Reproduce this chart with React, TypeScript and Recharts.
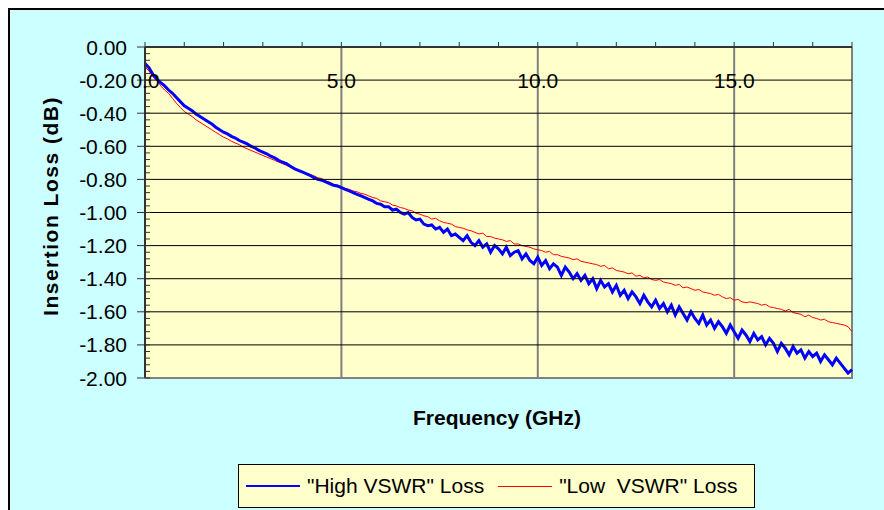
import React from "react";
import { LineChart, Line, XAxis, YAxis, CartesianGrid, ReferenceLine } from "recharts";

const freqGHz = [
  0.0, 0.1, 0.2, 0.3, 0.4, 0.5, 0.6, 0.7, 0.8, 0.9,
  1.0, 1.1, 1.2, 1.3, 1.4, 1.5, 1.6, 1.7, 1.8, 1.9,
  2.0, 2.1, 2.2, 2.3, 2.4, 2.5, 2.6, 2.7, 2.8, 2.9,
  3.0, 3.1, 3.2, 3.3, 3.4, 3.5, 3.6, 3.7, 3.8, 3.9,
  4.0, 4.1, 4.2, 4.3, 4.4, 4.5, 4.6, 4.7, 4.8, 4.9,
  5.0, 5.1, 5.2, 5.3, 5.4, 5.5, 5.6, 5.7, 5.8, 5.9,
  6.0, 6.1, 6.2, 6.3, 6.4, 6.5, 6.6, 6.7, 6.8, 6.9,
  7.0, 7.1, 7.2, 7.3, 7.4, 7.5, 7.6, 7.7, 7.8, 7.9,
  8.0, 8.1, 8.2, 8.3, 8.4, 8.5, 8.6, 8.7, 8.8, 8.9,
  9.0, 9.1, 9.2, 9.3, 9.4, 9.5, 9.6, 9.7, 9.8, 9.9,
  10.0, 10.1, 10.2, 10.3, 10.4, 10.5, 10.6, 10.7, 10.8, 10.9,
  11.0, 11.1, 11.2, 11.3, 11.4, 11.5, 11.6, 11.7, 11.8, 11.9,
  12.0, 12.1, 12.2, 12.3, 12.4, 12.5, 12.6, 12.7, 12.8, 12.9,
  13.0, 13.1, 13.2, 13.3, 13.4, 13.5, 13.6, 13.7, 13.8, 13.9,
  14.0, 14.1, 14.2, 14.3, 14.4, 14.5, 14.6, 14.7, 14.8, 14.9,
  15.0, 15.1, 15.2, 15.3, 15.4, 15.5, 15.6, 15.7, 15.8, 15.9,
  16.0, 16.1, 16.2, 16.3, 16.4, 16.5, 16.6, 16.7, 16.8, 16.9,
  17.0, 17.1, 17.2, 17.3, 17.4, 17.5, 17.6, 17.7, 17.8, 17.9,
  18.0,
];

const highVswrLoss = [
  -0.10, -0.125, -0.165, -0.195, -0.215, -0.235, -0.26, -0.28, -0.305, -0.33,
  -0.355, -0.37, -0.385, -0.405, -0.42, -0.435, -0.45, -0.465, -0.485, -0.50,
  -0.515, -0.525, -0.54, -0.55, -0.565, -0.575, -0.585, -0.60, -0.61, -0.625,
  -0.635, -0.645, -0.66, -0.67, -0.685, -0.695, -0.705, -0.72, -0.735, -0.745,
  -0.755, -0.765, -0.775, -0.79, -0.80, -0.805, -0.815, -0.825, -0.835, -0.84,
  -0.85, -0.86, -0.87, -0.88, -0.89, -0.90, -0.91, -0.92, -0.93, -0.945,
  -0.95, -0.965, -0.965, -0.985, -0.98, -1.00, -1.01, -1.00, -1.03, -1.045,
  -1.04, -1.07, -1.08, -1.075, -1.10, -1.09, -1.12, -1.10, -1.14, -1.13,
  -1.15, -1.17, -1.14, -1.18, -1.20, -1.17, -1.21, -1.19, -1.24, -1.20,
  -1.22, -1.25, -1.21, -1.26, -1.24, -1.23, -1.28, -1.25, -1.29, -1.31,
  -1.27, -1.32, -1.29, -1.34, -1.31, -1.33, -1.38, -1.33, -1.36, -1.40,
  -1.37, -1.41, -1.38, -1.43, -1.40, -1.46, -1.41, -1.45, -1.43, -1.48,
  -1.44, -1.50, -1.47, -1.52, -1.48, -1.51, -1.55, -1.50, -1.54, -1.57,
  -1.53, -1.58, -1.55, -1.60, -1.56, -1.62, -1.57, -1.61, -1.65, -1.60,
  -1.64, -1.67, -1.62, -1.68, -1.65, -1.70, -1.66, -1.69, -1.73, -1.68,
  -1.72, -1.76, -1.71, -1.74, -1.78, -1.73, -1.77, -1.75, -1.80, -1.76,
  -1.79, -1.84, -1.79, -1.82, -1.86, -1.81, -1.85, -1.83, -1.88, -1.84,
  -1.87, -1.85, -1.90, -1.86, -1.89, -1.92, -1.88, -1.91, -1.94, -1.97,
  -1.95,
];

const lowVswrLoss = [
  -0.12, -0.145, -0.18, -0.195, -0.235, -0.26, -0.28, -0.31, -0.34, -0.365,
  -0.39, -0.405, -0.42, -0.44, -0.455, -0.47, -0.485, -0.50, -0.515, -0.53,
  -0.545, -0.555, -0.57, -0.58, -0.59, -0.605, -0.615, -0.625, -0.635, -0.645,
  -0.655, -0.665, -0.675, -0.685, -0.695, -0.705, -0.715, -0.725, -0.735, -0.745,
  -0.755, -0.762, -0.77, -0.778, -0.79, -0.795, -0.81, -0.815, -0.83, -0.835,
  -0.845, -0.855, -0.86, -0.87, -0.875, -0.885, -0.89, -0.90, -0.91, -0.915,
  -0.93, -0.935, -0.94, -0.955, -0.96, -0.97, -0.975, -0.985, -0.99, -1.005,
  -1.01, -1.02, -1.025, -1.04, -1.035, -1.05, -1.06, -1.065, -1.07, -1.085,
  -1.09, -1.095, -1.105, -1.11, -1.12, -1.13, -1.125, -1.145, -1.145, -1.155,
  -1.16, -1.165, -1.175, -1.17, -1.19, -1.19, -1.20, -1.205, -1.21, -1.22,
  -1.225, -1.23, -1.24, -1.235, -1.255, -1.255, -1.265, -1.27, -1.275, -1.285,
  -1.28, -1.295, -1.30, -1.305, -1.31, -1.315, -1.325, -1.32, -1.34, -1.335,
  -1.35, -1.355, -1.36, -1.37, -1.365, -1.385, -1.38, -1.395, -1.39, -1.405,
  -1.41, -1.405, -1.42, -1.425, -1.43, -1.44, -1.435, -1.455, -1.45, -1.46,
  -1.47, -1.465, -1.48, -1.485, -1.49, -1.50, -1.495, -1.51, -1.52, -1.515,
  -1.53, -1.525, -1.54, -1.545, -1.54, -1.545, -1.55, -1.56, -1.555, -1.57,
  -1.575, -1.58, -1.585, -1.595, -1.585, -1.605, -1.61, -1.615, -1.63, -1.62,
  -1.635, -1.64, -1.65, -1.645, -1.66, -1.665, -1.67, -1.675, -1.68, -1.69,
  -1.72,
];

const xTicks = [0, 1, 2, 3, 4, 5, 6, 7, 8, 9, 10, 11, 12, 13, 14, 15, 16, 17, 18];
const xLabelTicks = [0, 5, 10, 15];
const yLabelTicks = [0, -0.2, -0.4, -0.6, -0.8, -1.0, -1.2, -1.4, -1.6, -1.8, -2.0];
const yGridLines = [-0.2, -0.4, -0.6, -0.8, -1.0, -1.2, -1.4, -1.6, -1.8];
const yBottom = -2.0;
const yAllTicks = [
  0, -0.04, -0.08, -0.12, -0.16, -0.2, -0.24, -0.28, -0.32, -0.36, -0.4,
  -0.44, -0.48, -0.52, -0.56, -0.6, -0.64, -0.68, -0.72, -0.76, -0.8,
  -0.84, -0.88, -0.92, -0.96, -1.0, -1.04, -1.08, -1.12, -1.16, -1.2,
  -1.24, -1.28, -1.32, -1.36, -1.4, -1.44, -1.48, -1.52, -1.56, -1.6,
  -1.64, -1.68, -1.72, -1.76, -1.8, -1.84, -1.88, -1.92, -1.96, -2.0,
];
const majorGridX = [5, 10, 15];

const seriesNames = ['"High VSWR" Loss', '"Low  VSWR" Loss'];
const seriesColors = ["#0000FF", "#FF0000"];
const seriesWidths = [3, 1];

const data = freqGHz.map((f, i) => ({ f, high: highVswrLoss[i], low: lowVswrLoss[i] }));

const FONT = "'Liberation Sans', Arial, sans-serif";
const W = 884;
const H = 510;
const PLOT_LEFT = 145;
const PLOT_TOP = 47;
const PLOT_RIGHT = 852;
const PLOT_BOTTOM = 378;
const X_AXIS_H = 20;
const Y_AXIS_W = 60;
const Y_TICK_OUT = 8;
const Y_TICK_IN = 5;
const Y_LABEL_GAP = 10;

const has = (arr: number[], v: number) => arr.some((t) => Math.abs(t - v) < 1e-9);

const XTick = (props: any) => {
  const { x, payload } = props;
  if (!xLabelTicks.includes(payload.value)) return null;
  return (
    <text x={x} y={PLOT_TOP + 33} textAnchor="middle" dominantBaseline="central" fontSize={21} fontFamily={FONT} fill="#000">
      {payload.value.toFixed(1)}
    </text>
  );
};

const YTick = (props: any) => {
  const { y, payload } = props;
  const v = payload.value;
  const major = has(yLabelTicks, v);
  const grid = has(yGridLines, v);
  const bottom = Math.abs(v - yBottom) < 1e-9;
  return (
    <g>
      {grid && <line x1={PLOT_LEFT} x2={PLOT_RIGHT} y1={y} y2={y} stroke="#000" strokeWidth={1} />}
      {bottom && <line x1={PLOT_LEFT} x2={PLOT_RIGHT + 1} y1={y} y2={y} stroke="#808080" strokeWidth={2} />}
      <line
        x1={major ? PLOT_LEFT - Y_TICK_OUT : PLOT_LEFT}
        x2={PLOT_LEFT + Y_TICK_IN}
        y1={y}
        y2={y}
        stroke="#333"
        strokeWidth={1}
      />
      {major && (
        <text
          x={PLOT_LEFT - Y_TICK_OUT - Y_LABEL_GAP}
          y={y}
          textAnchor="end"
          dominantBaseline="central"
          fontSize={21}
          fontFamily={FONT}
          fill="#000"
        >
          {v.toFixed(2)}
        </text>
      )}
    </g>
  );
};

export default function App() {
  return (
    <div style={{ position: "absolute", left: 0, top: 0, width: W, height: H, overflow: "hidden" }}>
      <div
        style={{
          position: "absolute",
          left: 8,
          top: 8,
          width: 920,
          height: 540,
          background: "#CCFFFF",
          borderTop: "2px solid #000",
          borderLeft: "2px solid #000",
        }}
      />
      <LineChart
        width={W}
        height={H}
        data={data}
        style={{ position: "absolute", left: 0, top: 0 }}
        margin={{
          top: PLOT_TOP - X_AXIS_H,
          left: PLOT_LEFT - Y_AXIS_W,
          right: W - PLOT_RIGHT,
          bottom: H - PLOT_BOTTOM,
        }}
      >
        <CartesianGrid horizontal={false} vertical={false} fill="#FFFFCC" fillOpacity={1} />
        <YAxis
          type="number"
          domain={[-2, 0]}
          ticks={yAllTicks}
          width={Y_AXIS_W}
          tickSize={0}
          tickLine={false}
          tick={<YTick />}
          axisLine={{ stroke: "#333", strokeWidth: 2 }}
          interval={0}
          label={{
            content: () => (
              <text
                x={50}
                y={206}
                transform="rotate(-90 50 206)"
                textAnchor="middle"
                dominantBaseline="central"
                fontSize={21}
                fontWeight="bold"
                letterSpacing={1.5}
                fontFamily={FONT}
                fill="#000"
              >
                Insertion Loss (dB)
              </text>
            ),
          }}
        />
        {majorGridX.map((v) => (
          <ReferenceLine key={"v" + v} x={v} stroke="#808080" strokeWidth={2} />
        ))}
        <ReferenceLine x={18} stroke="#808080" strokeWidth={2} ifOverflow="visible" />
        <XAxis
          dataKey="f"
          type="number"
          domain={[0, 18]}
          ticks={xTicks}
          orientation="top"
          height={X_AXIS_H}
          tickSize={5}
          tick={<XTick />}
          axisLine={{ stroke: "#333", strokeWidth: 2 }}
          tickLine={{ stroke: "#333", strokeWidth: 1 }}
          interval={0}
          label={{
            content: () => (
              <text x={497} y={417} textAnchor="middle" dominantBaseline="central" fontSize={21} fontWeight="bold" fontFamily={FONT} fill="#000">
                Frequency (GHz)
              </text>
            ),
          }}
        />
        <Line type="linear" dataKey="low" name={seriesNames[1]} stroke={seriesColors[1]} strokeWidth={seriesWidths[1]} dot={false} isAnimationActive={false} />
        <Line type="linear" dataKey="high" name={seriesNames[0]} stroke={seriesColors[0]} strokeWidth={seriesWidths[0]} dot={false} isAnimationActive={false} />
      </LineChart>
      <div
        style={{
          position: "absolute",
          left: 238,
          top: 464,
          width: 517,
          height: 44,
          boxSizing: "border-box",
          background: "#FFFFCC",
          border: "1px solid #000",
          display: "flex",
          alignItems: "center",
          fontFamily: FONT,
          fontSize: 21,
          color: "#000",
          whiteSpace: "pre",
        }}
      >
        {seriesNames.map((name, i) => (
          <div key={name} style={{ display: "flex", alignItems: "center", marginLeft: i === 0 ? 7 : 14 }}>
            <div style={{ width: 54, height: i === 0 ? 2 : 1, background: seriesColors[i], marginRight: 7 }} />
            <span>{name}</span>
          </div>
        ))}
      </div>
    </div>
  );
}
